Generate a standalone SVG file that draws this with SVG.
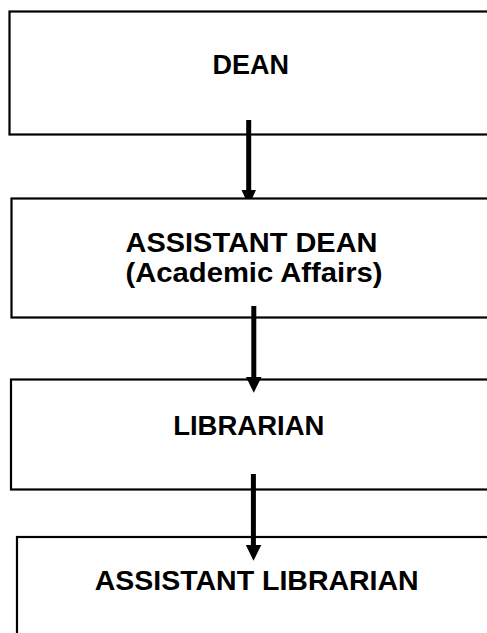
<svg xmlns="http://www.w3.org/2000/svg" width="487" height="633" viewBox="0 0 487 633">
<style>
.box{fill:#fff;stroke:#000;stroke-width:2.2}
.lbl{font-family:"Liberation Sans",Arial,sans-serif;font-weight:bold;fill:#000;text-anchor:middle}
.ln{stroke:#000;stroke-width:5;fill:none}
.hd{fill:#000;stroke:none}
</style>
<rect x="0" y="0" width="487" height="633" fill="#fff"/>
<g id="node-dean">
<rect class="box" x="9.5" y="11.5" width="500" height="123"/>
<text class="lbl" x="250.8" y="74.3" font-size="27">DEAN</text>
</g>
<g id="node-assistant-dean">
<rect class="box" x="11.5" y="198.5" width="500" height="119"/>
<text class="lbl" x="251.5" y="251.8" font-size="27.3" textLength="252" lengthAdjust="spacingAndGlyphs">ASSISTANT DEAN</text>
<text class="lbl" x="254" y="282" font-size="27.3" textLength="257" lengthAdjust="spacingAndGlyphs">(Academic Affairs)</text>
</g>
<g id="node-librarian">
<rect class="box" x="11" y="379.5" width="500" height="110"/>
<text class="lbl" x="248.8" y="435" font-size="27.5">LIBRARIAN</text>
</g>
<g id="node-assistant-librarian">
<rect class="box" x="17" y="537" width="500" height="120"/>
<text class="lbl" x="256.7" y="590" font-size="28.5">ASSISTANT LIBRARIAN</text>
</g>
<g id="connectors">
<line class="ln" x1="248.7" y1="120" x2="248.7" y2="191"/>
<polygon class="hd" points="241.5,190 256,190 252.3,198 245.2,198"/>
<line class="ln" x1="253.8" y1="306" x2="253.8" y2="378"/>
<polygon class="hd" points="246,377 261.5,377 253.8,392.7"/>
<line class="ln" x1="253.4" y1="474" x2="253.4" y2="546"/>
<polygon class="hd" points="245.8,545 261.3,545 253.5,560.7"/>
</g>
</svg>
